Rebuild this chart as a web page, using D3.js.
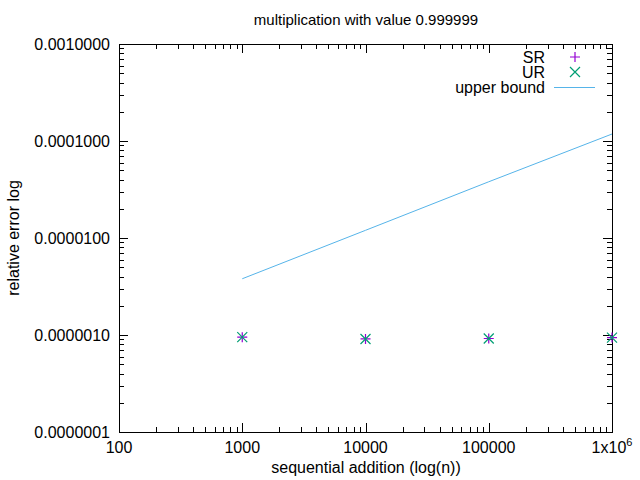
<!DOCTYPE html>
<html>
<head>
<meta charset="utf-8">
<style>
    body { margin: 0; background: #fff; }
    svg { font-family: 'Liberation Sans', Arial, sans-serif; }
</style>
</head>
<body>
<svg width="640" height="480"></svg>
<script src="https://d3js.org/d3.v7.min.js"></script>
<script>
    //-----------------------------DATA------------------------------//
    let xTicks = [100, 1000, 10000, 100000, 1000000];
    let yTicks = [1e-7, 1e-6, 1e-5, 1e-4, 1e-3];
    let nValues = [1000, 10000, 100000, 1000000];
    let srValues = [9.5e-7, 9.1e-7, 9.2e-7, 9.4e-7];
    let urValues = [9.5e-7, 9.1e-7, 9.2e-7, 9.4e-7];
    let boundN = [1000, 10000, 100000, 1000000];
    let boundValues = [3.8e-6, 1.2e-5, 3.8e-5, 1.18e-4];

    //-----------------------------SVG------------------------------//
    let svg = d3.select("svg");
    let margin = {top: 44, right: 28, bottom: 48, left: 119};
    let width = 640, height = 480;
    let x = d3.scaleLog().domain([100, 1e6]).range([margin.left, width - margin.right]);
    let y = d3.scaleLog().domain([1e-7, 1e-3]).range([height - margin.bottom, margin.top]);
    let x0 = x.range()[0], x1 = x.range()[1], y0 = y.range()[0], y1 = y.range()[1];
    let fs = 16;

    let g = svg.append("g").attr("stroke", "black").attr("stroke-width", 1);

    // ticks (major + minor) on all four sides
    [100, 1000, 10000, 100000].forEach(d => {
        for (let k = 1; k <= 9; k++) {
            let v = d * k, len = k == 1 ? 9 : 5, px = Math.round(x(v)) + 0.5;
            g.append("line").attr("x1", px).attr("x2", px).attr("y1", y0).attr("y2", y0 - len);
            g.append("line").attr("x1", px).attr("x2", px).attr("y1", y1).attr("y2", y1 + len);
        }
    });
    [1e-7, 1e-6, 1e-5, 1e-4].forEach(d => {
        for (let k = 1; k <= 9; k++) {
            let v = d * k, len = k == 1 ? 9 : 5, py = Math.round(y(v)) + 0.5;
            g.append("line").attr("y1", py).attr("y2", py).attr("x1", x0).attr("x2", x0 + len);
            g.append("line").attr("y1", py).attr("y2", py).attr("x1", x1).attr("x2", x1 - len);
        }
    });
    g.append("rect").attr("x", x0 + 0.5).attr("y", y1 + 0.5)
        .attr("width", x1 - x0).attr("height", y0 - y1).attr("fill", "none");

    // tick labels
    xTicks.forEach(t => {
        let txt = svg.append("text").attr("x", x(t)).attr("y", y0 + 21)
            .attr("text-anchor", "middle").attr("font-size", fs);
        if (t == 1e6) {
            txt.text("1x10");
            txt.append("tspan").attr("dy", -7).attr("font-size", 11).text("6");
        } else txt.text(t);
    });
    yTicks.forEach(t => {
        svg.append("text").attr("x", x0 - 9).attr("y", y(t) + 6)
            .attr("text-anchor", "end").attr("font-size", fs).text(t.toFixed(7));
    });

    // titles
    svg.append("text").attr("x", 366).attr("y", 25).attr("text-anchor", "middle")
        .attr("font-size", 15).text("multiplication with value 0.999999");
    svg.append("text").attr("x", 366).attr("y", 473).attr("text-anchor", "middle")
        .attr("font-size", fs).text("sequential addition (log(n))");
    svg.append("text").attr("transform", "translate(19," + ((y0 + y1) / 2) + ") rotate(-90)")
        .attr("text-anchor", "middle").attr("font-size", fs).text("relative error log");

    // upper bound line
    let line = d3.line().x(d => x(d[0])).y(d => y(d[1]));
    svg.append("path").datum(boundN.map((n, i) => [n, boundValues[i]]))
        .attr("d", line).attr("fill", "none").attr("stroke", "#56b4e9").attr("stroke-width", 1);

    // points
    function plus(px, py, c) {
        svg.append("path").attr("d", `M${px - 5},${py}H${px + 5}M${px},${py - 5}V${py + 5}`)
            .attr("stroke", c).attr("stroke-width", 1.2);
    }
    function cross(px, py, c) {
        svg.append("path").attr("d", `M${px - 5},${py - 5}L${px + 5},${py + 5}M${px - 5},${py + 5}L${px + 5},${py - 5}`)
            .attr("stroke", c).attr("stroke-width", 1.2);
    }
    nValues.forEach((n, i) => {
        plus(x(n), y(srValues[i]), "#9400d3");
        cross(x(n), y(urValues[i]), "#009e73");
    });

    // legend
    let lx = 545;
    [["SR", 57], ["UR", 72], ["upper bound", 87]].forEach(d => {
        svg.append("text").attr("x", lx).attr("y", d[1] + 6).attr("text-anchor", "end")
            .attr("font-size", fs).text(d[0]);
    });
    plus(575, 57, "#9400d3");
    cross(575, 72, "#009e73");
    svg.append("line").attr("x1", 554).attr("x2", 595).attr("y1", 87.5).attr("y2", 87.5)
        .attr("stroke", "#56b4e9");
</script>
</body>
</html>
